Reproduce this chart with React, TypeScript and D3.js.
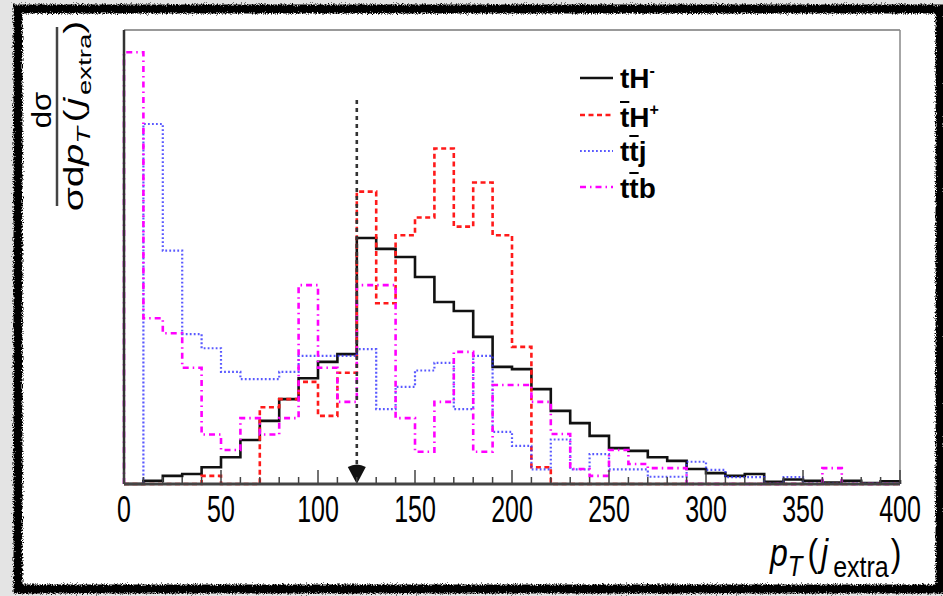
import React, { useEffect } from 'react';
import * as d3 from 'd3';

// bin edges of pT(j_extra), 10 GeV bins from 0 to 400
const binEdges = d3.range(0, 401, 10);

// normalised dsigma/dpT, arbitrary units (plot top = 100)
const tHminus = [0, 0.7, 1.8, 2.2, 3.7, 5.9, 9.7, 13.9, 18.7, 23.3, 26.9, 28.6, 54.2, 51.8, 50.0, 45.6, 40.1, 38.1, 32.4, 25.8,
  25.3, 20.9, 16.1, 13.4, 10.6, 7.9, 7.3, 5.9, 5.1, 3.3, 2.4, 1.8, 2.2, 0.5, 1.0, 0.7, 0.3, 0.7, 0.2, 0.6];
const tbarHplus = [0, 0, 0, 0, 1.8, 0, 0, 16.9, 18.7, 22.5, 15.0, 24.5, 64.4, 39.8, 54.8, 58.7, 73.9, 56.7, 66.4, 54.8,
  30.2, 3.7, 0, 0, 0, 0, 0, 0, 0, 0, 0, 0, 0, 0, 0, 0, 0, 0, 0, 0];
const ttj = [0, 79.3, 51.4, 33.0, 29.9, 24.7, 23.1, 23.1, 24.7, 28.2, 28.2, 28.2, 29.7, 16.5, 21.4, 25.0, 26.7, 16.5, 28.2, 11.5,
  8.4, 3.2, 9.8, 3.2, 6.6, 3.2, 3.2, 1.6, 1.6, 4.9, 3.1, 1.5, 1.5, 0.1, 1.5, 0.1, 0.1, 0.1, 0.1, 0.1];
const ttb = [95.1, 36.5, 33.2, 25.6, 10.9, 7.5, 14.5, 10.9, 14.5, 43.8, 25.6, 18.1, 43.8, 43.8, 14.5, 7.1, 18.1, 29.1, 7.1, 21.8,
  21.8, 18.1, 11.0, 3.3, 1.8, 7.5, 4.4, 3.5, 3.5, 0, 0, 0, 0, 0, 0, 0, 3.5, 0, 0, 0];

const xTicks = [0, 50, 100, 150, 200, 250, 300, 350, 400];
const minorTicks = d3.range(0, 401, 10);

// cut marker at pT = 120 GeV
const cutValue = 120;
const cutTop = 84.6;

const series = [
  { name: 'tH-', values: tHminus, color: '#111', width: 2.6, dash: null, opacity: 1 },
  { name: 'tbarH+', values: tbarHplus, color: '#ff1a1a', width: 2.6, dash: '5 3.5', opacity: 1 },
  { name: 'ttj', values: ttj, color: '#3030ff', width: 2.2, dash: '1.8 2.2', opacity: 0.8 },
  { name: 'ttb', values: ttb, color: '#ff00ff', width: 2.6, dash: '6 4 1.5 4', opacity: 1 },
];

const W = 943;
const H = 596;
const frame = { left: 124, right: 900, top: 30, bottom: 484 };
const font = 'Liberation Sans, Arial, Helvetica, sans-serif';

const App = () => {
  useEffect(() => {
    document.body.style.margin = '0';
  }, []);

  const x = d3.scaleLinear().domain([0, 400]).range([frame.left, frame.right]);
  const y = d3.scaleLinear().domain([0, 100]).range([frame.bottom, frame.top]);

  const histLine = d3.line<[number, number]>()
    .x(d => x(d[0]))
    .y(d => y(d[1]))
    .curve(d3.curveStepAfter);

  const histPath = (vals: number[]) => {
    const pts: [number, number][] = [[0, 0]];
    vals.forEach((v, i) => pts.push([binEdges[i], v]));
    pts.push([400, vals[vals.length - 1]]);
    pts.push([400, 0]);
    return histLine(pts);
  };

  const cx = x(cutValue);

  // legend rows
  const legX = 580;
  const legText = 620;
  const rows = [78, 115, 151, 187];
  const fs = 28;
  const tW = 0.333 * fs;

  return (
    <svg width={W} height={H} style={{ display: 'block', background: '#e4e4e4' }}>
      <defs>
        <filter id="rough" x="-5%" y="-5%" width="110%" height="110%">
          <feTurbulence type="fractalNoise" baseFrequency="0.8" numOctaves="2" seed="4" />
          <feDisplacementMap in="SourceGraphic" scale="6" />
        </filter>
      </defs>
      <rect x={18} y={9} width={922} height={580} fill="#fff" />
      <rect x={18} y={9} width={922} height={580} fill="none" stroke="#000" strokeWidth={9} filter="url(#rough)" />

      {/* frame */}
      <line x1={frame.left} x2={frame.right} y1={frame.top} y2={frame.top} stroke="#999" strokeWidth={2} />
      <line x1={frame.right} x2={frame.right} y1={frame.top} y2={frame.bottom} stroke="#888" strokeWidth={1.5} />

      {/* histograms */}
      {series.map(s => (
        <path key={s.name} d={histPath(s.values) || ''} fill="none" stroke={s.color} strokeWidth={s.width}
          strokeDasharray={s.dash || undefined} opacity={s.opacity} strokeLinejoin="miter" />
      ))}

      {/* cut line + arrow */}
      <line x1={cx} x2={cx} y1={y(cutTop)} y2={frame.bottom - 16} stroke="#333" strokeWidth={2.6} strokeDasharray="4 4" />
      <path d={`M${cx - 9},${frame.bottom - 17} Q${cx},${frame.bottom - 22} ${cx + 9},${frame.bottom - 17} L${cx},${frame.bottom} Z`} fill="#111" />

      {/* axes */}
      <line x1={frame.left} x2={frame.left} y1={frame.top} y2={frame.bottom} stroke="#333" strokeWidth={2.5} />
      <line x1={frame.left} x2={frame.right} y1={frame.bottom} y2={frame.bottom} stroke="#444" strokeWidth={2.8} />
      {minorTicks.map(t => (
        <line key={t} x1={x(t)} x2={x(t)} y1={frame.bottom} y2={frame.bottom - (t % 50 === 0 ? 14 : 7)} stroke="#444" strokeWidth={1.5} />
      ))}
      {xTicks.map(t => (
        <text key={t} transform={`translate(${x(t)},522) scale(1,1.45)`} textAnchor="middle" fontFamily={font} fontSize={25} fill="#000">{t}</text>
      ))}

      {/* x title */}
      <g transform="translate(770,566) scale(1,1.2)" fontFamily={font} fill="#000">
        <text fontSize={32}>
          <tspan fontStyle="italic">p</tspan>
          <tspan fontStyle="italic" fontSize={24} dy={8}>T</tspan>
          <tspan fontSize={32} dx={5} dy={-8}>(</tspan>
          <tspan fontStyle="italic" dx={3}>j</tspan>
          <tspan fontSize={25} dx={5} dy={9}>extra</tspan>
          <tspan fontSize={32} dx={2} dy={-9}>)</tspan>
        </text>
      </g>

      {/* y title */}
      <text transform="translate(51,110) scale(1,1.15) rotate(-90)" textAnchor="middle" fontFamily={font} fontSize={27} fill="#000">dσ</text>
      <line x1={57} x2={57} y1={27} y2={206} stroke="#444" strokeWidth={2.5} />
      <g transform="translate(83,116) scale(1,1.45) rotate(-90)" fontFamily={font} fill="#000">
        <text textAnchor="middle" fontSize={27}>
          <tspan>σd</tspan>
          <tspan fontStyle="italic">p</tspan>
          <tspan fontStyle="italic" fontSize={19} dy={7}>T</tspan>
          <tspan dx={3} dy={-7}>(</tspan>
          <tspan fontStyle="italic" dx={2}>j</tspan>
          <tspan fontSize={19} dx={2} dy={8}>extra</tspan>
          <tspan dy={-8}>)</tspan>
        </text>
      </g>

      {/* legend */}
      {series.map((s, i) => (
        <line key={s.name} x1={legX} x2={legX + 33} y1={rows[i]} y2={rows[i]} stroke={s.color} strokeWidth={s.width}
          strokeDasharray={s.dash || undefined} opacity={s.opacity} />
      ))}
      <g fontFamily={font} fontWeight="bold" fontSize={fs} fill="#000">
        <text x={legText} y={rows[0] + 10}>tH<tspan fontSize={16} dy={-12}>-</tspan></text>
        <text x={legText} y={rows[1] + 12}>tH<tspan fontSize={16} dy={-12}>+</tspan></text>
        <text x={legText} y={rows[2] + 10}>ttj</text>
        <text x={legText} y={rows[3] + 11}>ttb</text>
      </g>
      <line x1={legText} x2={legText + tW} y1={rows[1] - 13} y2={rows[1] - 13} stroke="#000" strokeWidth={2} />
      <line x1={legText + tW} x2={legText + 2 * tW} y1={rows[2] - 15} y2={rows[2] - 15} stroke="#000" strokeWidth={2} />
      <line x1={legText + tW} x2={legText + 2 * tW} y1={rows[3] - 14} y2={rows[3] - 14} stroke="#000" strokeWidth={2} />
    </svg>
  );
};

export default App;
